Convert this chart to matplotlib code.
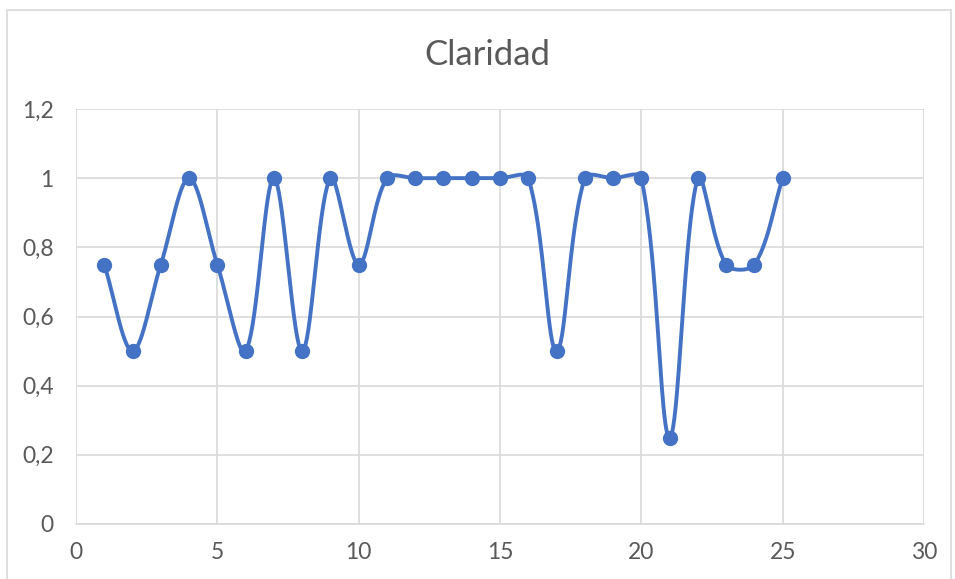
import numpy as np
import matplotlib
matplotlib.use("Agg")
import matplotlib.pyplot as plt
from matplotlib.ticker import FuncFormatter, MultipleLocator
from matplotlib.patches import Rectangle

title = "Claridad"
x_vals = list(range(1, 26))
y_vals = [0.75, 0.5, 0.75, 1, 0.75, 0.5, 1, 0.5, 1, 0.75,
          1, 1, 1, 1, 1, 1, 0.5, 1, 1, 1,
          0.25, 1, 0.75, 0.75, 1]

LINE = "#4472C4"
GRID = "#D9D9D9"
TEXT = "#595959"

XMAX, YMAX = 30, 1.2
PLOT_W, PLOT_H = 848.0, 415.0

def excel_smooth(xs, ys, n=40):
    # work in pixel space so segment lengths are visual lengths
    sxp, syp = PLOT_W / XMAX, PLOT_H / YMAX
    P = np.column_stack([np.asarray(xs, float) * sxp, np.asarray(ys, float) * syp])
    N = len(P)
    d = [np.linalg.norm(P[i + 1] - P[i]) for i in range(N - 1)]
    out = []
    for i in range(N - 1):
        p1, p2 = P[i], P[i + 1]
        if i > 0:
            c1 = p1 + (p2 - P[i - 1]) * d[i] / (d[i - 1] + d[i]) / 3.0
        else:
            c1 = p1 + (p2 - p1) / 3.0
        if i + 2 < N:
            c2 = p2 - (P[i + 2] - p1) * d[i] / (d[i] + d[i + 1]) / 3.0
        else:
            c2 = p2 - (p2 - p1) / 3.0
        t = np.linspace(0, 1, n)[:, None]
        seg = ((1 - t) ** 3) * p1 + 3 * ((1 - t) ** 2) * t * c1 + 3 * (1 - t) * t ** 2 * c2 + t ** 3 * p2
        out.append(seg if i == 0 else seg[1:])
    s = np.vstack(out)
    return s[:, 0] / sxp, s[:, 1] / syp

plt.rcParams['font.family'] = ['Lato', 'DejaVu Sans']

fig = plt.figure(figsize=(9.55, 5.79), dpi=100)
fig.patches.append(Rectangle((7 / 955, -0.01), (951 - 7) / 955, (579 - 10) / 579 + 0.01,
                             transform=fig.transFigure, fill=False, edgecolor=GRID, linewidth=1.2))
ax = fig.add_axes([76 / 955, 55 / 579, PLOT_W / 955, PLOT_H / 579])

sx, sy = excel_smooth(x_vals, y_vals)
ax.plot(sx, sy, color=LINE, linewidth=2.8, solid_capstyle='round', zorder=3)
ax.plot(x_vals, y_vals, linestyle='none', marker='o', markersize=10,
        color=LINE, zorder=4)

ax.set_xlim(0, XMAX)
ax.set_ylim(0, YMAX)
ax.xaxis.set_major_locator(MultipleLocator(5))
ax.yaxis.set_major_locator(MultipleLocator(0.2))
fmt = FuncFormatter(lambda v, p: ("%g" % round(v, 2)).replace(".", ","))
ax.xaxis.set_major_formatter(fmt)
ax.yaxis.set_major_formatter(fmt)
ax.grid(True, color=GRID, linewidth=1.2)
ax.set_axisbelow(True)
for s in ax.spines.values():
    s.set_visible(False)
ax.spines['bottom'].set_visible(True)
ax.spines['bottom'].set_color(GRID)
ax.spines['bottom'].set_linewidth(1.2)
ax.tick_params(length=0, labelsize=16.5, colors=TEXT)
ax.tick_params(axis='y', pad=16)
ax.tick_params(axis='x', pad=13)

fig.text(487 / 955, 1 - 55 / 579, title, ha='center', va='center', fontsize=25, color=TEXT)

fig.savefig("out.png", dpi=100)
